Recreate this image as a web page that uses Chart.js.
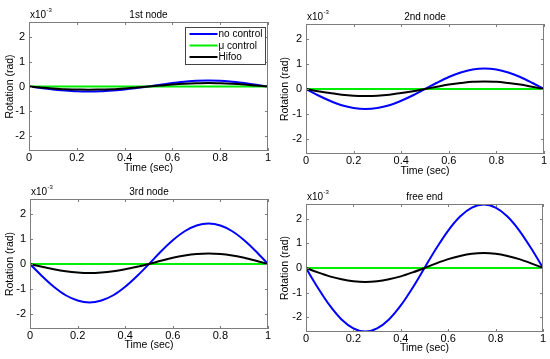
<!DOCTYPE html>
<html><head><meta charset="utf-8">
<script src="https://cdn.jsdelivr.net/npm/chart.js@4.4.0/dist/chart.umd.min.js"></script>
<style>
html,body{margin:0;padding:0;background:#fff;}
#wrap{position:relative;width:550px;height:359px;overflow:hidden;background:#fff;}
canvas{position:absolute;}
</style></head><body><div id="wrap">
<canvas id="c0" width="275" height="180" style="left:0;top:0"></canvas>
<canvas id="c1" width="275" height="180" style="left:275px;top:0"></canvas>
<canvas id="c2" width="275" height="179" style="left:0;top:180px"></canvas>
<canvas id="c3" width="275" height="179" style="left:275px;top:180px"></canvas>
</div>
<script>
// ---- data (values in units of 1e-3 rad) ----
const time = [0,0.05,0.1,0.15,0.2,0.25,0.3,0.35,0.4,0.45,0.5,0.55,0.6,0.65,0.7,0.75,0.8,0.85,0.9,0.95,1];
const panelTitles = ['1st node','2nd node','3rd node','free end'];
const seriesNames = ['no control','\u03bc control','Hifoo'];
const xTicks = [0,0.2,0.4,0.6,0.8,1];
const yTicks = [-2,-1,0,1,2];
const yLimit = 2.6;

const noControl1 = [0,-0.06,-0.12,-0.16,-0.19,-0.2,-0.19,-0.16,-0.12,-0.06,0,0.07,0.14,0.19,0.23,0.24,0.23,0.19,0.14,0.07,0];
const muControl1 = [0,0,0,0,0,0,0,0,0,0,0,0,0,0,0,0,0,0,0,0,0];
const hifoo1     = [0,-0.04,-0.08,-0.11,-0.12,-0.13,-0.12,-0.11,-0.08,-0.04,0,0.04,0.08,0.11,0.13,0.14,0.13,0.11,0.08,0.04,0];

const noControl2 = [0,-0.25,-0.47,-0.65,-0.76,-0.8,-0.76,-0.65,-0.47,-0.25,0,0.25,0.48,0.66,0.78,0.82,0.78,0.66,0.48,0.25,0];
const muControl2 = [0,0,0,0,0,0,0,0,0,0,0,0,0,0,0,0,0,0,0,0,0];
const hifoo2     = [0,-0.09,-0.16,-0.23,-0.27,-0.28,-0.27,-0.23,-0.16,-0.09,0,0.09,0.18,0.24,0.29,0.3,0.29,0.24,0.18,0.09,0];

const noControl3 = [0,-0.48,-0.91,-1.25,-1.46,-1.54,-1.46,-1.25,-0.91,-0.48,0,0.5,0.95,1.31,1.54,1.62,1.54,1.31,0.95,0.5,0];
const muControl3 = [0,0,0,0,0,0,0,0,0,0,0,0,0,0,0,0,0,0,0,0,0];
const hifoo3     = [0,-0.11,-0.21,-0.29,-0.34,-0.36,-0.34,-0.29,-0.21,-0.11,0,0.13,0.25,0.34,0.4,0.42,0.4,0.34,0.25,0.13,0];

const noControlEnd = [0,-0.8,-1.52,-2.09,-2.45,-2.58,-2.45,-2.09,-1.52,-0.8,0,0.8,1.52,2.09,2.45,2.58,2.45,2.09,1.52,0.8,0];
const muControlEnd = [0,0,0,0,0,0,0,0,0,0,0,0,0,0,0,0,0,0,0,0,0];
const hifooEnd     = [0,-0.18,-0.34,-0.46,-0.54,-0.57,-0.54,-0.46,-0.34,-0.18,0,0.19,0.36,0.49,0.58,0.61,0.58,0.49,0.36,0.19,0];

const panelSeries = [
  [noControl1, muControl1, hifoo1],
  [noControl2, muControl2, hifoo2],
  [noControl3, muControl3, hifoo3],
  [noControlEnd, muControlEnd, hifooEnd]
];

// ---- styles / layout ----
const seriesColors = ['#0000ff','#00ee00','#000000'];
const seriesOrder = [2,1,0];
const FONT = '"Liberation Sans", Arial, sans-serif';
const panelBoxes = [
  {w:275,h:180,left:29,right:268,top:22,bottom:151,xPad:6},
  {w:275,h:180,left:31,right:269,top:24,bottom:154,xPad:3},
  {w:275,h:179,left:30,right:268,top:19,bottom:149,xPad:8},
  {w:275,h:179,left:31,right:268,top:24,bottom:152,xPad:5}
];

Chart.defaults.color = '#000';
Chart.defaults.font.family = FONT;

const framePlugin = {
  id: 'frame',
  afterDatasetsDraw(chart) {
    const {ctx, chartArea: a, scales: {x, y}} = chart;
    ctx.save();
    ctx.strokeStyle = '#7d7d7d';
    ctx.lineWidth = 1;
    ctx.beginPath();
    xTicks.forEach(v => {
      const px = Math.round(x.getPixelForValue(v)) + 0.5;
      ctx.moveTo(px, a.top); ctx.lineTo(px, a.top + 3);
      ctx.moveTo(px, a.bottom); ctx.lineTo(px, a.bottom - 3);
    });
    yTicks.forEach(v => {
      const py = Math.round(y.getPixelForValue(v)) + 0.5;
      ctx.moveTo(a.left, py); ctx.lineTo(a.left + 3, py);
      ctx.moveTo(a.right, py); ctx.lineTo(a.right - 3, py);
    });
    ctx.stroke();
    ctx.strokeRect(Math.round(a.left) + 0.5, Math.round(a.top) + 0.5,
                   Math.round(a.right - a.left) - 1, Math.round(a.bottom - a.top) - 1);
    ctx.restore();
  },
  afterDraw(chart, args, opts) {
    const {ctx, chartArea: a} = chart;
    ctx.save();
    ctx.fillStyle = '#000';
    ctx.textBaseline = 'middle';
    ctx.font = '10px ' + FONT;
    ctx.textAlign = 'center';
    ctx.fillText(opts.title, (a.left + a.right) / 2, a.top - 7);
    ctx.textAlign = 'left';
    ctx.fillText('x10', a.left + 1, a.top - 7);
    const w = ctx.measureText('x10').width;
    ctx.font = '6px ' + FONT;
    ctx.fillText('-3', a.left + 1.5 + w, a.top - 12);
    if (opts.legend) {
      const bx = 185.5, by = 27.5, bw = 80, bh = 37;
      ctx.fillStyle = '#fff';
      ctx.fillRect(bx, by, bw, bh);
      ctx.strokeStyle = '#444';
      ctx.lineWidth = 1;
      ctx.strokeRect(bx, by, bw, bh);
      ctx.font = '10px ' + FONT;
      const ds = chart.data.datasets;
      ds.forEach((d, i) => {
        const yy = by + 6.5 + i * 11.5;
        ctx.strokeStyle = d.borderColor;
        ctx.lineWidth = 2;
        ctx.beginPath();
        ctx.moveTo(bx + 4, yy); ctx.lineTo(bx + 32, yy);
        ctx.stroke();
        ctx.fillStyle = '#000';
        ctx.fillText(d.label, bx + 33, yy + 0.5);
      });
    }
    ctx.restore();
  }
};

panelTitles.forEach((title, p) => {
  const B = panelBoxes[p];
  const datasets = panelSeries[p].map((vals, i) => ({
    label: seriesNames[i],
    data: time.map((t, k) => ({x: t, y: vals[k]})),
    borderColor: seriesColors[i],
    backgroundColor: seriesColors[i],
    borderWidth: 2,
    pointRadius: 0,
    cubicInterpolationMode: 'monotone',
    fill: false,
    order: seriesOrder[i]
  }));
  new Chart(document.getElementById('c' + p), {
    type: 'line',
    data: {datasets},
    plugins: [framePlugin],
    options: {
      responsive: false,
      animation: false,
      devicePixelRatio: 1,
      layout: {padding: {top: B.top, right: B.w - B.right, left: 0, bottom: 0}},
      plugins: {
        legend: {display: false},
        tooltip: {enabled: false},
        title: {display: false},
        frame: {title: title, legend: p === 0}
      },
      scales: {
        x: {
          type: 'linear', min: 0, max: 1,
          grid: {display: false, drawTicks: false, tickLength: 0},
          border: {display: false},
          afterBuildTicks: s => { s.ticks = xTicks.map(v => ({value: v})); },
          afterFit: s => { s.height = B.h - B.bottom; },
          ticks: {padding: 0, maxRotation: 0, autoSkip: false, font: {size: 11}, callback: v => String(v)},
          title: {display: true, text: 'Time (sec)', font: {size: 10.5}, padding: {top: 0, bottom: B.xPad}}
        },
        y: {
          type: 'linear', min: -yLimit, max: yLimit,
          grid: {display: false, drawTicks: false, tickLength: 0},
          border: {display: false},
          afterBuildTicks: s => { s.ticks = yTicks.map(v => ({value: v})); },
          afterFit: s => { s.width = B.left; },
          ticks: {padding: 4, autoSkip: false, font: {size: 11}, callback: v => String(v)},
          title: {display: true, text: 'Rotation (rad)', font: {size: 10.5}, padding: {top: 4, bottom: 0}}
        }
      }
    }
  });
});
</script>
</body></html>
